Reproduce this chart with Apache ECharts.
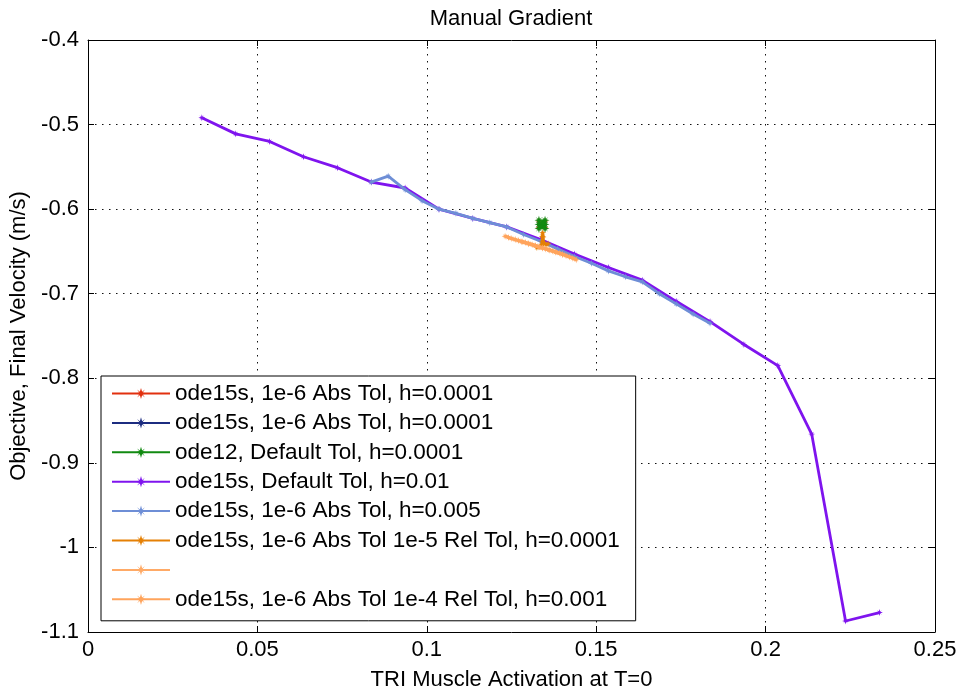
<!DOCTYPE html>
<html>
<head>
<meta charset="utf-8">
<script src="https://cdn.jsdelivr.net/npm/echarts@6/dist/echarts.min.js"></script>
<style>
html,body{margin:0;padding:0;background:#fff;}
#chart{width:961px;height:696px;}
</style>
</head>
<body>
<div id="chart"></div>
<script>
// ---- data ----
var seriesNames = [
  'ode15s, 1e-6 Abs Tol, h=0.0001',
  'ode15s, 1e-6 Abs Tol, h=0.0001\u200B',
  'ode12, Default Tol, h=0.0001',
  'ode15s, Default Tol, h=0.01',
  'ode15s, 1e-6 Abs Tol, h=0.005',
  'ode15s, 1e-6 Abs Tol 1e-5 Rel Tol, h=0.0001',
  '\u200B',
  'ode15s, 1e-6 Abs Tol 1e-4 Rel Tol, h=0.001'
];
var seriesColors = ['#E2300F', '#1C2C80', '#118A11', '#7F14EE', '#6E8ED6', '#E58005', '#FFAA66', '#FFA45C'];

var redX = [0.1331, 0.1331, 0.1340, 0.1349, 0.1349];
var redY = [-0.614, -0.622, -0.618, -0.622, -0.614];

var navyX = [0.1331, 0.1340, 0.1349];
var navyY = [-0.618, -0.620, -0.618];

var greenX = [0.1331, 0.1331, 0.1331, 0.1340, 0.1349, 0.1349, 0.1349, 0.1340];
var greenY = [-0.613, -0.618, -0.623, -0.620, -0.623, -0.618, -0.613, -0.616];

var purpleX = [0.0336, 0.0436, 0.0536, 0.0636, 0.0736, 0.0836, 0.0936, 0.1036, 0.1136, 0.1236, 0.1336,
               0.1436, 0.1536, 0.1636, 0.1736, 0.1836, 0.1936, 0.2036, 0.2136, 0.2236, 0.2336];
var purpleY = [-0.492, -0.511, -0.520, -0.538, -0.551, -0.568, -0.575, -0.600, -0.611, -0.621, -0.636,
               -0.653, -0.669, -0.684, -0.709, -0.733, -0.760, -0.785, -0.866, -1.087, -1.077];

var blueX = [0.0836, 0.0886, 0.0936, 0.0986, 0.1036, 0.1086, 0.1136, 0.1186, 0.1236, 0.1286, 0.1336,
             0.1386, 0.1436, 0.1486, 0.1536, 0.1586, 0.1636, 0.1686, 0.1736, 0.1786, 0.1836];
var blueY = [-0.568, -0.561, -0.577, -0.590, -0.600, -0.605, -0.611, -0.616, -0.621, -0.630, -0.638,
             -0.647, -0.656, -0.664, -0.673, -0.680, -0.686, -0.700, -0.712, -0.724, -0.735];

var orangeX = [0.1325, 0.1332, 0.1338, 0.1341, 0.1341, 0.1342, 0.1343, 0.1345, 0.1352, 0.1358];
var orangeY = [-0.6455, -0.6445, -0.6430, -0.6380, -0.6320, -0.6280, -0.6330, -0.6400, -0.6420, -0.6410];

var lightOrangeAX = [0.1281, 0.1301, 0.1321, 0.1341, 0.1361, 0.1381, 0.1401];
var lightOrangeAY = [-0.6385, -0.6408, -0.6433, -0.6458, -0.6482, -0.6508, -0.6535];

var lightOrangeX = [0.1231, 0.1241, 0.1251, 0.1261, 0.1271, 0.1281, 0.1291, 0.1301, 0.1311, 0.1321, 0.1331,
                    0.1341, 0.1351, 0.1361, 0.1371, 0.1381, 0.1391, 0.1401, 0.1411, 0.1421, 0.1431, 0.1441];
var lightOrangeY = [-0.6320, -0.6335, -0.6348, -0.6360, -0.6372, -0.6385, -0.6395, -0.6408, -0.6420, -0.6433, -0.6447,
                    -0.6458, -0.6470, -0.6482, -0.6495, -0.6508, -0.6520, -0.6535, -0.6550, -0.6565, -0.6580, -0.6598];

var xTicks = [0, 0.05, 0.1, 0.15, 0.2, 0.25];
var yTicks = [-1.1, -1, -0.9, -0.8, -0.7, -0.6, -0.5, -0.4];

var titleText = 'Manual Gradient';
var xName = 'TRI Muscle Activation at T=0';
var yName = 'Objective, Final Velocity (m/s)';

// ---- build ----
function pairs(xs, ys) { return xs.map(function (x, i) { return [x, ys[i]]; }); }
var allX = [redX, navyX, greenX, purpleX, blueX, orangeX, lightOrangeAX, lightOrangeX];
var allY = [redY, navyY, greenY, purpleY, blueY, orangeY, lightOrangeAY, lightOrangeY];

var star = 'path://M0,-10L2,-3L7,-7L3,-2L10,0L3,2L7,7L2,3L0,10L-2,3L-7,7L-3,2L-10,0L-3,-2L-7,-7L-2,-3Z';
var FONT = '"Liberation Sans", Arial, Helvetica, sans-serif';

var series = seriesNames.map(function (name, i) {
  return {
    name: name,
    type: 'line',
    data: pairs(allX[i], allY[i]),
    xAxisIndex: 0, yAxisIndex: 0,
    symbol: star,
    symbolSize: i === 2 ? 9 : 7,
    showSymbol: true,
    lineStyle: { color: seriesColors[i], width: (i === 6 || i === 7) ? 3.5 : 2.8 },
    itemStyle: { color: seriesColors[i] },
    animation: false,
    z: 2 + i
  };
});

var gridLine = { show: true, lineStyle: { color: '#111', type: [1.5, 5.5], width: 1 } };
var tickIn = { show: true, inside: true, length: 6, lineStyle: { color: '#000' } };
var xMin = xTicks[0], xMax = xTicks[xTicks.length - 1], xInt = xTicks[1] - xTicks[0];
var yMin = yTicks[0], yMax = yTicks[yTicks.length - 1], yInt = 0.1;

var chart = echarts.init(document.getElementById('chart'), null, { renderer: 'canvas' });
chart.setOption({
  backgroundColor: '#fff',
  animation: false,
  textStyle: { fontFamily: FONT },
  title: {
    text: titleText, left: 506, top: 3, textAlign: 'center',
    textStyle: { fontFamily: FONT, fontSize: 22, fontWeight: 'normal', color: '#000' }
  },
  grid: { left: 88, right: 26, top: 40, bottom: 61, containLabel: false },
  xAxis: [{
    type: 'value', min: xMin, max: xMax, interval: xInt, position: 'bottom',
    name: xName, nameLocation: 'middle', nameGap: 37,
    nameTextStyle: { fontFamily: FONT, fontSize: 22, color: '#000' },
    axisLine: { show: true, onZero: false, lineStyle: { color: '#000', width: 1 } },
    axisTick: tickIn,
    axisLabel: { fontFamily: FONT, fontSize: 22, color: '#000', margin: 7 },
    splitLine: gridLine
  }, {
    type: 'value', min: xMin, max: xMax, interval: xInt, position: 'top',
    axisLine: { show: true, onZero: false, lineStyle: { color: '#000', width: 1 } },
    axisTick: tickIn, axisLabel: { show: false }, splitLine: { show: false }
  }],
  yAxis: [{
    type: 'value', min: yMin, max: yMax, interval: yInt, position: 'left',
    name: yName, nameLocation: 'middle', nameGap: 57,
    nameTextStyle: { fontFamily: FONT, fontSize: 22, color: '#000' },
    axisLine: { show: true, onZero: false, lineStyle: { color: '#000', width: 1 } },
    axisTick: tickIn,
    axisLabel: { fontFamily: FONT, fontSize: 22, color: '#000', margin: 9 },
    splitLine: gridLine
  }, {
    type: 'value', min: yMin, max: yMax, interval: yInt, position: 'right',
    axisLine: { show: true, onZero: false, lineStyle: { color: '#000', width: 1 } },
    axisTick: tickIn, axisLabel: { show: false }, splitLine: { show: false }
  }],
  legend: {
    data: seriesNames,
    orient: 'vertical',
    left: 101, top: 376,
    padding: [6, 16, 10, 10],
    itemWidth: 58, itemHeight: 14, itemGap: 6.4,
    backgroundColor: '#fff',
    borderColor: '#000', borderWidth: 1,
    selectedMode: false,
    z: 20,
    textStyle: { fontFamily: FONT, fontSize: 22.5, lineHeight: 22, color: '#000', padding: [0, 0, 0, 0] }
  },
  series: series
});
</script>
</body>
</html>
